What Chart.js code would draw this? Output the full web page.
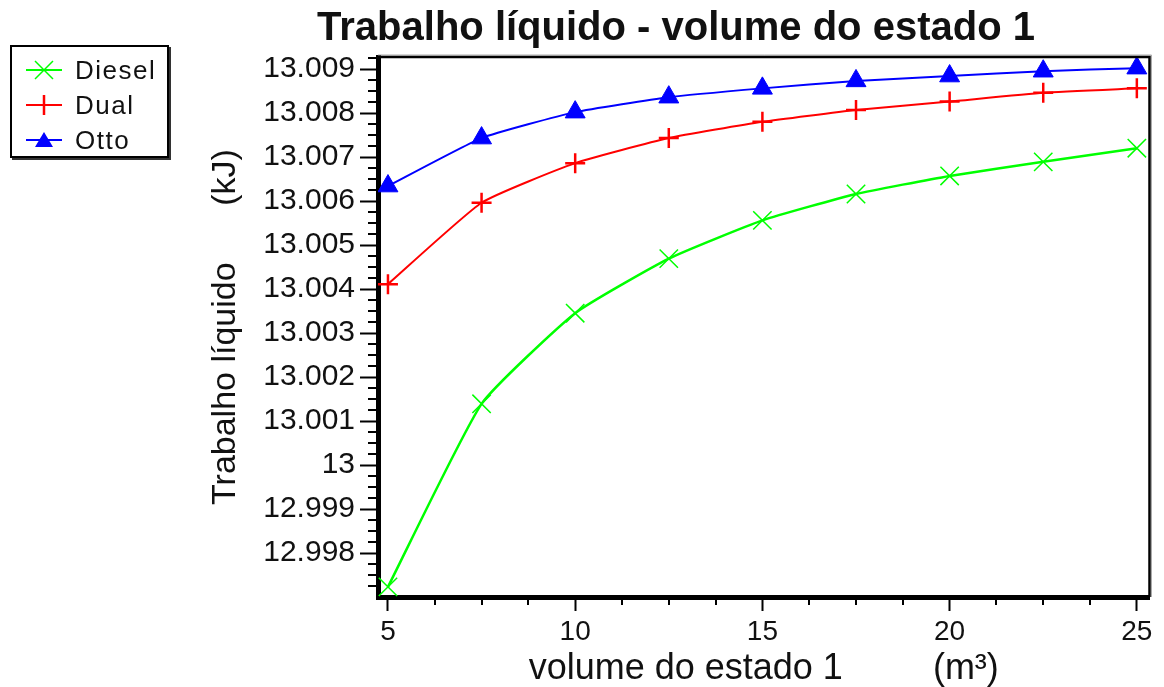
<!DOCTYPE html>
<html lang="pt">
  <head>
    <meta charset="UTF-8" />
    <title>Trabalho líquido - volume do estado 1</title>
    <style>
      html,
      body {
        margin: 0;
        padding: 0;
        background: #fff;
      }
      .wrapper {
        position: relative;
        width: 1164px;
        height: 687px;
      }
      .legend {
        position: absolute;
        left: 10px;
        top: 45px;
        width: 155px;
        height: 109px;
        border: 2px solid #000;
        box-shadow: 2px 2px 0 #333;
        background: #fff;
        font-family: "Liberation Sans", Arial, sans-serif;
        font-size: 26px;
        letter-spacing: 1.5px;
        color: #111;
      }
      .legend__item {
        position: absolute;
        left: 0;
        height: 30px;
        line-height: 30px;
        white-space: nowrap;
      }
      .legend__item svg {
        position: absolute;
        left: 14px;
        top: 0;
      }
      .legend__item span {
        position: absolute;
        left: 63px;
        top: 0;
      }
    </style>
  </head>
  <body>
    <div class="wrapper">
      <canvas id="chart"></canvas>
      <div id="legend" class="legend"></div>
    </div>
    <script src="https://cdn.jsdelivr.net/npm/chart.js"></script>
    <script>
      // volume do estado 1 (m³)
      const volume = [5, 7.5, 10, 12.5, 15, 17.5, 20, 22.5, 25];

      // trabalho líquido (kJ)
      const diesel = [12.99723, 13.00139, 13.00345, 13.00469, 13.00556, 13.00616, 13.00657, 13.00689, 13.0072];
      const dual = [13.00411, 13.00596, 13.00686, 13.00743, 13.0078, 13.00807, 13.00826, 13.00846, 13.00856];
      const otto = [13.00634, 13.00743, 13.00802, 13.00836, 13.00856, 13.00873, 13.00884, 13.00895, 13.00902];

      const seriesNames = ["Diesel", "Dual", "Otto"];
      const seriesColors = ["#00ff00", "#ff0000", "#0000ff"];

      const xTickLabels = ["5", "10", "15", "20", "25"];
      const yTickLabels = [
        "12.998", "12.999", "13", "13.001", "13.002", "13.003",
        "13.004", "13.005", "13.006", "13.007", "13.008", "13.009",
      ];

      const xMin = 4.734, xMax = 25.338, xMinorStep = 1.25;
      const yMin = 12.997, yMax = 13.009273, yMinorStep = 0.00025;

      const font = "'Liberation Sans', Arial, sans-serif";

      function points(values) {
        return values.map((v, i) => ({ x: volume[i], y: v }));
      }

      // small ticks between the labelled ones + the thin top/right frame
      const axisExtras = {
        id: "axisExtras",
        afterDraw(chart) {
          const { ctx, chartArea: a, scales } = chart;
          ctx.save();
          ctx.strokeStyle = "#000";
          ctx.lineWidth = 2;
          ctx.beginPath();
          for (let i = 1; yMin + i * yMinorStep <= yMax; i++) {
            if (i % 4 === 0) continue;
            const py = Math.round(scales.y.getPixelForValue(yMin + i * yMinorStep));
            ctx.moveTo(a.left - 10, py);
            ctx.lineTo(a.left - 2, py);
          }
          for (let i = 1; 5 + i * xMinorStep <= xMax; i++) {
            if (i % 4 === 0) continue;
            const px = Math.round(scales.x.getPixelForValue(5 + i * xMinorStep));
            ctx.moveTo(px, a.bottom + 2);
            ctx.lineTo(px, a.bottom + 8);
          }
          ctx.stroke();

          ctx.strokeStyle = "#aaa";
          ctx.lineWidth = 1;
          ctx.beginPath();
          ctx.moveTo(a.left, a.top - 2);
          ctx.lineTo(a.right + 2, a.top - 2);
          ctx.lineTo(a.right + 2, a.bottom);
          ctx.stroke();
          ctx.strokeStyle = "#000";
          ctx.lineWidth = 2.5;
          ctx.beginPath();
          ctx.moveTo(a.left, a.top);
          ctx.lineTo(a.right, a.top);
          ctx.lineTo(a.right, a.bottom);
          ctx.stroke();
          ctx.restore();
        },
      };

      const chart = new Chart(document.getElementById("chart"), {
        type: "line",
        data: {
          datasets: [
            {
              label: seriesNames[0],
              data: points(diesel),
              borderColor: seriesColors[0],
              borderWidth: 2.5,
              pointStyle: "crossRot",
              pointRadius: 13,
              pointBorderWidth: 1.5,
              pointBorderColor: seriesColors[0],
              tension: 0.15,
            },
            {
              label: seriesNames[1],
              data: points(dual),
              borderColor: seriesColors[1],
              borderWidth: 2,
              pointStyle: "cross",
              pointRadius: 10,
              pointBorderWidth: 2.5,
              pointBorderColor: seriesColors[1],
              tension: 0.15,
            },
            {
              label: seriesNames[2],
              data: points(otto),
              borderColor: seriesColors[2],
              borderWidth: 2,
              pointStyle: "triangle",
              pointRadius: 11.5,
              pointBorderWidth: 1,
              pointBackgroundColor: seriesColors[2],
              pointBorderColor: seriesColors[2],
              tension: 0.15,
            },
          ],
        },
        plugins: [axisExtras],
        options: {
          responsive: true,
          maintainAspectRatio: false,
          animation: false,
          events: [],
          layout: { padding: { left: 200, right: 12, top: 0, bottom: 0 } },
          plugins: {
            legend: { display: false },
            tooltip: { enabled: false },
            title: {
              display: true,
              text: "Trabalho líquido - volume do estado 1",
              color: "#111",
              font: { family: font, size: 40, weight: "bold", lineHeight: 1.2 },
              padding: { top: 5, bottom: 4 },
            },
          },
          scales: {
            x: {
              type: "linear",
              min: xMin,
              max: xMax,
              afterBuildTicks: (scale) => {
                scale.ticks = xTickLabels.map((t) => ({ value: Number(t) }));
              },
              afterFit: (scale) => {
                scale.height = 90;
              },
              ticks: {
                color: "#111",
                padding: 4,
                maxRotation: 0,
                font: { family: font, size: 28 },
                callback: (value, index) => xTickLabels[index],
              },
              grid: {
                drawOnChartArea: false,
                tickLength: 14,
                tickWidth: 2,
                tickColor: "#000",
              },
              border: { display: true, width: 5, color: "#000" },
              title: {
                display: true,
                text: "volume do estado 1         (m³)",
                color: "#111",
                font: { family: font, size: 36, lineHeight: 1 },
                padding: { top: 0, bottom: 0 },
              },
            },
            y: {
              type: "linear",
              min: yMin,
              max: yMax,
              afterBuildTicks: (scale) => {
                scale.ticks = yTickLabels.map((t) => ({ value: Number(t) }));
              },
              afterFit: (scale) => {
                scale.width = 178;
              },
              ticks: {
                color: "#111",
                padding: 5,
                font: { family: font, size: 30 },
                callback: (value, index) => yTickLabels[index],
              },
              grid: {
                drawOnChartArea: false,
                tickLength: 18,
                tickWidth: 2,
                tickColor: "#000",
              },
              border: { display: true, width: 5, color: "#000" },
              title: {
                display: true,
                text: "Trabalho líquido      (kJ)",
                color: "#111",
                font: { family: font, size: 34, lineHeight: 1 },
                padding: { top: 8.5, bottom: 0 },
              },
            },
          },
        },
      });

      // legend built from the chart's datasets
      function marker(style, color) {
        if (style === "crossRot")
          return `<path d="M9 6 L27 24 M27 6 L9 24" stroke="${color}" stroke-width="1.5"/>`;
        if (style === "cross")
          return `<path d="M18 5 L18 25" stroke="${color}" stroke-width="2.5"/>`;
        return `<path d="M18 7 L27 22 L9 22 Z" fill="${color}"/>`;
      }

      const legend = document.getElementById("legend");
      chart.data.datasets.forEach((ds, i) => {
        const item = document.createElement("div");
        item.className = "legend__item";
        item.style.top = 8 + i * 35 + "px";
        item.innerHTML =
          `<svg width="40" height="30" viewBox="0 0 40 30">` +
          `<path d="M0 15 L36 15" stroke="${ds.borderColor}" stroke-width="2"/>` +
          marker(ds.pointStyle, ds.borderColor) +
          `</svg><span>${ds.label}</span>`;
        legend.appendChild(item);
      });
    </script>
  </body>
</html>
